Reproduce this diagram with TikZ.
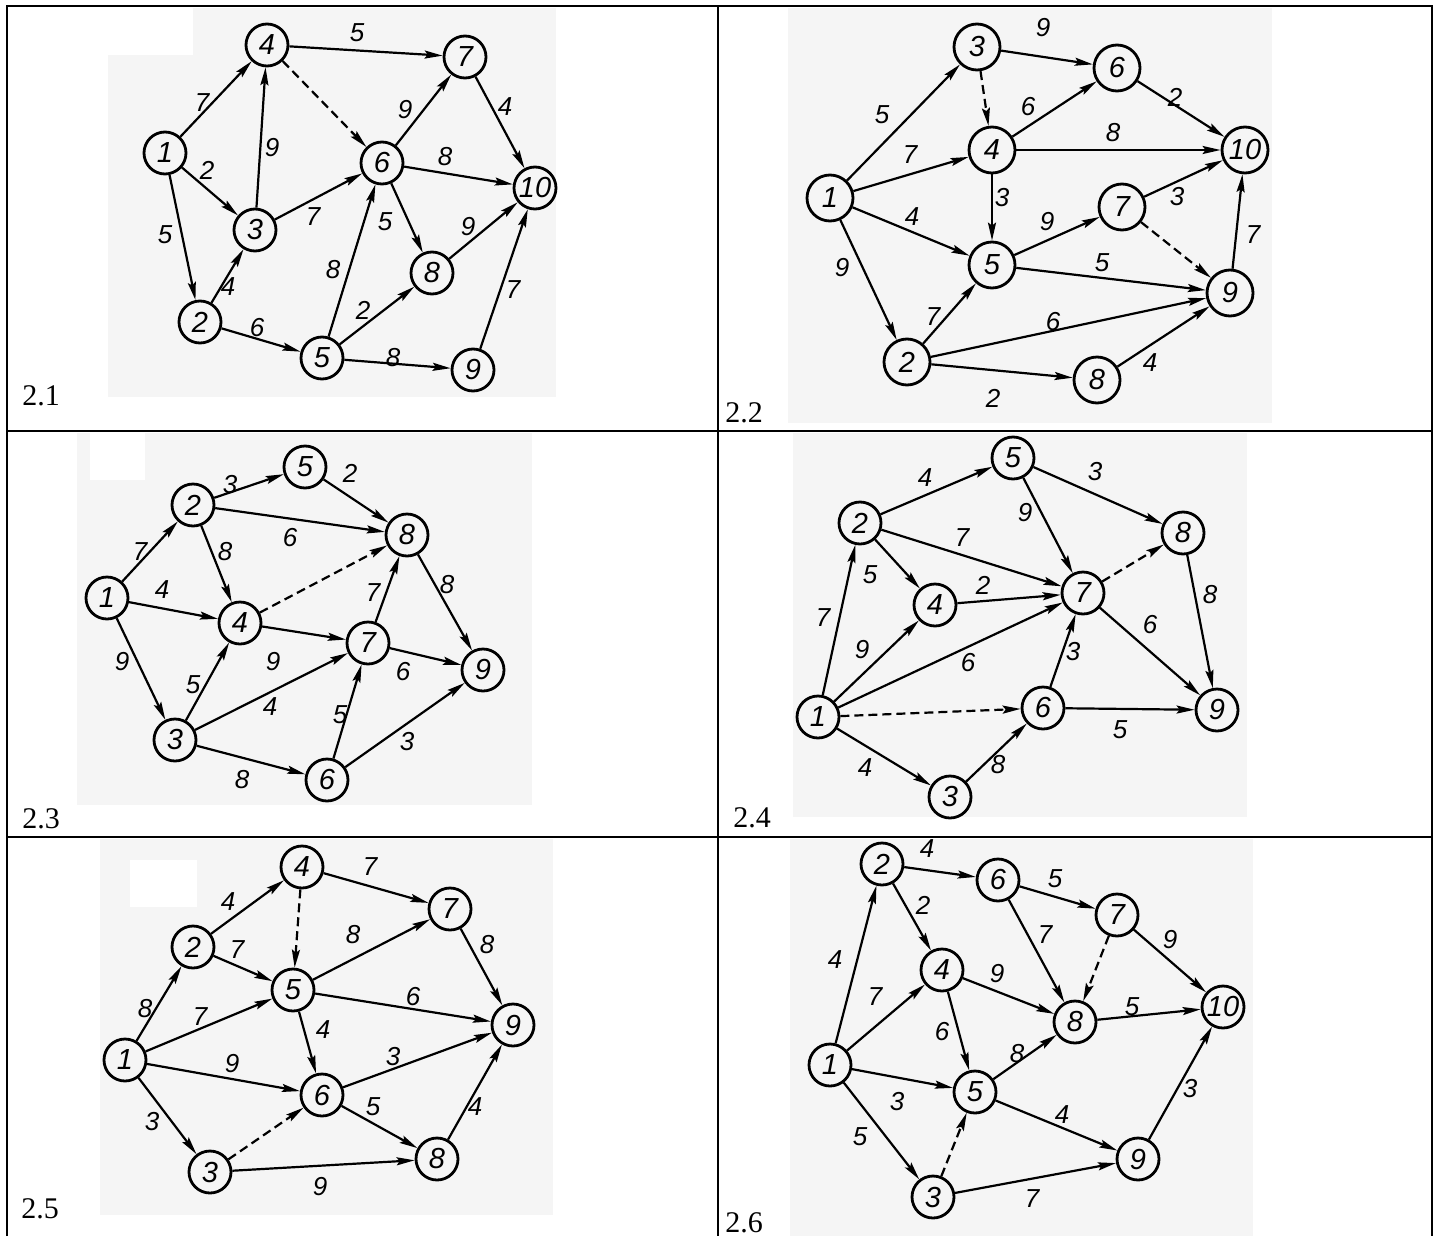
\documentclass[tikz,border=0pt]{standalone}
\usepackage{fontspec}
\setmainfont{Liberation Serif}
\newfontfamily\gf{Liberation Sans}
\usetikzlibrary{arrows.meta}
\newcommand\ed[5]{\draw[arr] (#1) -- (#2); \node[lab] (l#1#2) at (#4,#5) {#3};}
\begin{document}
\begin{tikzpicture}[x=0.5pt,y=-0.5pt,
  vtx/.style={circle,draw,line width=1.4pt,minimum size=21pt,inner sep=0pt,font=\gf\itshape\fontsize{14.5}{14.5}\selectfont},
  bigv/.style={vtx,minimum size=23pt},
  arr/.style={line width=1.1pt,-{Stealth[length=9pt,width=4pt,inset=1.5pt]}},
  dsh/.style={arr,dash pattern=on 4.5pt off 2.5pt},
  lab/.style={font=\gf\itshape\fontsize{13}{13}\selectfont,inner sep=0pt},
  captxt/.style={font=\fontsize{15}{15}\selectfont,anchor=base west,inner sep=0pt},
  tabline/.style={line width=1.2pt},
  scan/.style={fill=black!4,draw=none},
  blank/.style={fill=white,draw=none}
]
\useasboundingbox (0,0) rectangle (1438,1236);
% scanned backgrounds
\path[scan] (108,8) rectangle (556,397);
\path[scan] (788,8) rectangle (1272,423);
\path[scan] (77,433) rectangle (532,805);
\path[scan] (793,433) rectangle (1247,817);
\path[scan] (100,839) rectangle (553,1215);
\path[scan] (790,839) rectangle (1253,1236);
\path[blank] (108,8) rectangle (193,55);
\path[blank] (90,433) rectangle (145,480);
\path[blank] (130,860) rectangle (197,907);
% table
\draw[tabline] (7,1236) -- (7,6) -- (1432,6) -- (1432,1236);
\draw[tabline] (718,6) -- (718,1236);
\draw[tabline] (7,431) -- (1432,431);
\draw[tabline] (7,837) -- (1432,837);
\node[captxt] (c21) at (22,405) {2.1};
\node[captxt] (c22) at (725,422) {2.2};
\node[captxt] (c23) at (22,828) {2.3};
\node[captxt] (c24) at (733,827) {2.4};
\node[captxt] (c25) at (21,1218) {2.5};
\node[captxt] (c26) at (725,1232) {2.6};

% ---------- 2.1
\node[vtx] (a1) at (165,153) {1};
\node[vtx] (a2) at (200,322) {2};
\node[vtx] (a3) at (255,230) {3};
\node[vtx] (a4) at (267,45) {4};
\node[vtx] (a5) at (322,358) {5};
\node[vtx] (a6) at (382,163) {6};
\node[vtx] (a7) at (465,57) {7};
\node[vtx] (a8) at (432,273) {8};
\node[vtx] (a9) at (473,370) {9};
\node[vtx] (a10) at (535,188) {10};
\ed{a1}{a4}{7}{202}{103}
\ed{a4}{a7}{5}{357}{33}
\draw[dsh] (a4) -- (a6);
\ed{a1}{a3}{2}{207}{170}
\ed{a1}{a2}{5}{165}{235}
\ed{a3}{a4}{9}{272}{148}
\ed{a3}{a6}{7}{313}{217}
\ed{a2}{a3}{4}{228}{287}
\ed{a2}{a5}{6}{257}{328}
\ed{a6}{a7}{9}{405}{110}
\ed{a7}{a10}{4}{505}{107}
\ed{a6}{a10}{8}{445}{157}
\ed{a6}{a8}{5}{385}{222}
\ed{a8}{a10}{9}{468}{227}
\ed{a5}{a6}{8}{333}{270}
\ed{a5}{a8}{2}{363}{310}
\ed{a5}{a9}{8}{393}{358}
\ed{a9}{a10}{7}{513}{290}

% ---------- 2.2
\node[bigv] (b1) at (830,198) {1};
\node[bigv] (b2) at (907,362) {2};
\node[bigv] (b3) at (977,47) {3};
\node[bigv] (b4) at (992,150) {4};
\node[bigv] (b5) at (992,265) {5};
\node[bigv] (b6) at (1117,68) {6};
\node[bigv] (b7) at (1122,207) {7};
\node[bigv] (b8) at (1097,380) {8};
\node[bigv] (b9) at (1230,293) {9};
\node[bigv] (b10) at (1245,150) {10};
\ed{b1}{b3}{5}{882}{115}
\ed{b3}{b6}{9}{1043}{28}
\draw[dsh] (b3) -- (b4);
\ed{b1}{b4}{7}{910}{155}
\ed{b4}{b6}{6}{1028}{107}
\ed{b6}{b10}{2}{1175}{97}
\ed{b4}{b10}{8}{1113}{133}
\ed{b4}{b5}{3}{1002}{198}
\ed{b1}{b5}{4}{912}{217}
\ed{b1}{b2}{9}{842}{268}
\ed{b5}{b7}{9}{1047}{222}
\ed{b7}{b10}{3}{1177}{197}
\draw[dsh] (b7) -- (b9);
\ed{b5}{b9}{5}{1102}{263}
\ed{b9}{b10}{7}{1253}{235}
\ed{b2}{b5}{7}{933}{317}
\ed{b2}{b9}{6}{1053}{322}
\ed{b2}{b8}{2}{993}{398}
\ed{b8}{b9}{4}{1150}{363}

% ---------- 2.3
\node[vtx] (c1) at (107,598) {1};
\node[vtx] (c2) at (193,505) {2};
\node[vtx] (c3) at (175,740) {3};
\node[vtx] (c4) at (240,623) {4};
\node[vtx] (c5) at (305,467) {5};
\node[vtx] (c6) at (327,780) {6};
\node[vtx] (c7) at (368,643) {7};
\node[vtx] (c8) at (407,535) {8};
\node[vtx] (c9) at (483,670) {9};
\ed{c2}{c5}{3}{230}{485}
\ed{c5}{c8}{2}{350}{473}
\ed{c2}{c8}{6}{290}{538}
\ed{c1}{c2}{7}{140}{552}
\ed{c2}{c4}{8}{225}{552}
\ed{c1}{c4}{4}{162}{590}
\draw[dsh] (c4) -- (c8);
\ed{c4}{c7}{9}{273}{662}
\ed{c7}{c8}{7}{373}{593}
\ed{c8}{c9}{8}{447}{585}
\ed{c1}{c3}{9}{122}{662}
\ed{c3}{c4}{5}{193}{685}
\ed{c3}{c7}{4}{270}{707}
\ed{c7}{c9}{6}{403}{672}
\ed{c6}{c7}{5}{340}{715}
\ed{c3}{c6}{8}{242}{780}
\ed{c6}{c9}{3}{407}{742}

% ---------- 2.4
\node[vtx] (d1) at (818,717) {1};
\node[vtx] (d2) at (860,523) {2};
\node[vtx] (d3) at (950,797) {3};
\node[vtx] (d4) at (935,605) {4};
\node[vtx] (d5) at (1013,458) {5};
\node[vtx] (d6) at (1043,708) {6};
\node[vtx] (d7) at (1083,593) {7};
\node[vtx] (d8) at (1183,533) {8};
\node[vtx] (d9) at (1217,710) {9};
\ed{d2}{d5}{4}{925}{478}
\ed{d5}{d8}{3}{1095}{472}
\ed{d5}{d7}{9}{1025}{513}
\ed{d2}{d7}{7}{962}{538}
\ed{d2}{d4}{5}{870}{575}
\ed{d4}{d7}{2}{983}{585}
\draw[dsh] (d7) -- (d8);
\ed{d1}{d2}{7}{823}{618}
\ed{d8}{d9}{8}{1210}{595}
\ed{d7}{d9}{6}{1150}{625}
\ed{d1}{d4}{9}{862}{650}
\ed{d1}{d7}{6}{968}{663}
\ed{d6}{d7}{3}{1073}{652}
\draw[dsh] (d1) -- (d6);
\ed{d6}{d9}{5}{1120}{730}
\ed{d1}{d3}{4}{865}{768}
\ed{d3}{d6}{8}{998}{765}

% ---------- 2.5
\node[vtx] (e1) at (125,1060) {1};
\node[vtx] (e2) at (193,947) {2};
\node[vtx] (e3) at (210,1172) {3};
\node[vtx] (e4) at (302,867) {4};
\node[vtx] (e5) at (293,990) {5};
\node[vtx] (e6) at (322,1095) {6};
\node[vtx] (e7) at (450,909) {7};
\node[vtx] (e8) at (437,1159) {8};
\node[vtx] (e9) at (513,1025) {9};
\ed{e2}{e4}{4}{228}{902}
\ed{e4}{e7}{7}{370}{867}
\draw[dsh] (e4) -- (e5);
\ed{e2}{e5}{7}{237}{950}
\ed{e5}{e7}{8}{353}{935}
\ed{e7}{e9}{8}{487}{945}
\ed{e1}{e2}{8}{145}{1009}
\ed{e1}{e5}{7}{200}{1017}
\ed{e5}{e9}{6}{413}{997}
\ed{e5}{e6}{4}{323}{1030}
\ed{e1}{e6}{9}{232}{1064}
\ed{e6}{e9}{3}{393}{1057}
\ed{e6}{e8}{5}{373}{1107}
\ed{e8}{e9}{4}{475}{1107}
\ed{e1}{e3}{3}{152}{1122}
\draw[dsh] (e3) -- (e6);
\ed{e3}{e8}{9}{320}{1187}

% ---------- 2.6
\node[vtx] (f1) at (830,1065) {1};
\node[vtx] (f2) at (882,864) {2};
\node[vtx] (f3) at (933,1197) {3};
\node[vtx] (f4) at (942,970) {4};
\node[vtx] (f5) at (975,1092) {5};
\node[vtx] (f6) at (998,880) {6};
\node[vtx] (f7) at (1117,915) {7};
\node[vtx] (f8) at (1075,1022) {8};
\node[vtx] (f9) at (1138,1159) {9};
\node[vtx] (f10) at (1223,1007) {10};
\ed{f2}{f6}{4}{927}{849}
\ed{f6}{f7}{5}{1055}{879}
\ed{f2}{f4}{2}{923}{905}
\ed{f6}{f8}{7}{1045}{935}
\draw[dsh] (f7) -- (f8);
\ed{f7}{f10}{9}{1170}{940}
\ed{f1}{f2}{4}{835}{960}
\ed{f1}{f4}{7}{875}{997}
\ed{f4}{f8}{9}{997}{974}
\ed{f4}{f5}{6}{942}{1032}
\ed{f5}{f8}{8}{1017}{1054}
\ed{f8}{f10}{5}{1132}{1007}
\ed{f1}{f5}{3}{897}{1102}
\ed{f1}{f3}{5}{860}{1137}
\draw[dsh] (f3) -- (f5);
\ed{f5}{f9}{4}{1062}{1115}
\ed{f9}{f10}{3}{1190}{1089}
\ed{f3}{f9}{7}{1032}{1199}
\end{tikzpicture}
\end{document}
